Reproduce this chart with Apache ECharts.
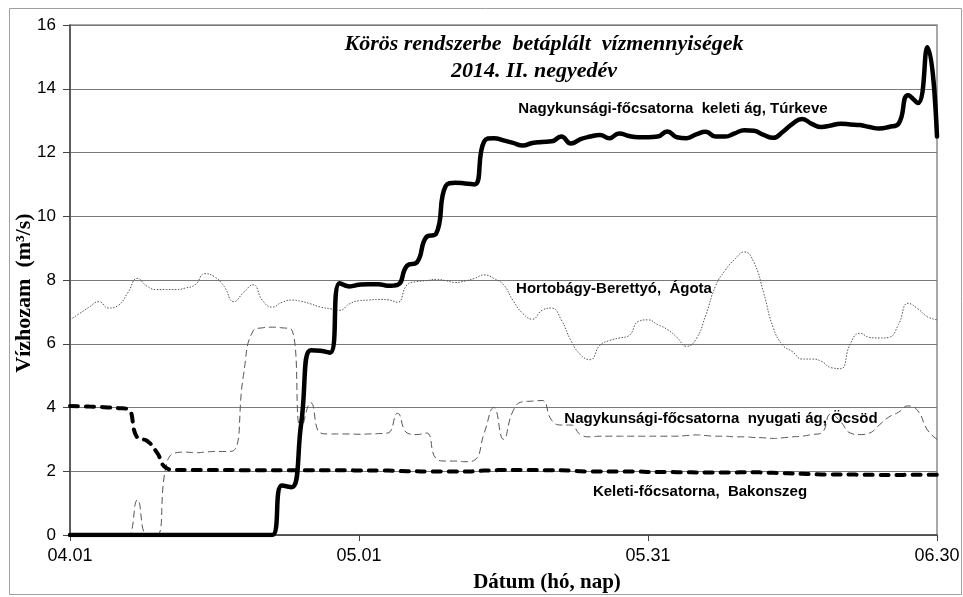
<!DOCTYPE html>
<html><head><meta charset="utf-8">
<script src="https://cdn.jsdelivr.net/npm/echarts@6/dist/echarts.min.js"></script>
<style>html,body{margin:0;padding:0;background:#fff}#c{width:963px;height:597px}</style>
</head><body><div id="c"></div>
<script>
// Tick labels shown on the date axis
const tickLabels = ['04.01', '05.01', '05.31', '06.30'];
// Categories: every day of 2014 Q2 (04.01 … 06.30), as MM.DD
const categories = (function () {
  const out = [];
  const d = new Date(Date.UTC(2014, 3, 1));
  while (d.getUTCMonth() < 6) {
    out.push(String(d.getUTCMonth() + 1).padStart(2, '0') + '.' + String(d.getUTCDate()).padStart(2, '0'));
    d.setUTCDate(d.getUTCDate() + 1);
  }
  return out;
})();

const seriesNames = [
  'Nagykunsági-főcsatorna  keleti ág, Túrkeve',
  'Hortobágy-Berettyó,  Ágota',
  'Nagykunsági-főcsatorna  nyugati ág, Öcsöd',
  'Keleti-főcsatorna,  Bakonszeg'
];

// Nagykunsági-főcsatorna keleti ág, Túrkeve (m3/s)
const turkeve = [
  0, 0, 0, 0, 0, 0, 0, 0, 0, 0,
  0, 0, 0, 0, 0, 0, 0, 0, 0, 0,
  0, 0, 1.55, 1.5, 3.5, 5.8, 5.78, 5.72, 7.9, 7.8,
  7.85, 7.87, 7.87, 7.82, 7.85, 8.45, 8.55, 9.35, 9.45, 10.95,
  11.05, 11.03, 11.0, 12.35, 12.45, 12.38, 12.3, 12.22, 12.3, 12.33,
  12.35, 12.5, 12.28, 12.42, 12.5, 12.55, 12.45, 12.6, 12.52, 12.48,
  12.48, 12.5, 12.66, 12.48, 12.45, 12.57, 12.65, 12.5, 12.5, 12.6,
  12.7, 12.68, 12.55, 12.46, 12.65, 12.9, 13.05, 12.9, 12.8, 12.85,
  12.9, 12.88, 12.86, 12.8, 12.75, 12.8, 12.9, 13.8, 13.55, 15.3,
  12.5
];
// Hortobágy-Berettyó, Ágota
const agota = [
  6.75, 6.95, 7.15, 7.32, 7.12, 7.2, 7.6, 8.05, 7.8, 7.7,
  7.7, 7.7, 7.75, 7.85, 8.2, 8.1, 7.8, 7.32, 7.6, 7.85,
  7.35, 7.15, 7.3, 7.37, 7.33, 7.25, 7.15, 7.1, 7.05, 7.25,
  7.35, 7.37, 7.39, 7.38, 7.3, 7.85, 7.95, 7.98, 8.02, 7.98,
  7.92, 7.97, 8.05, 8.16, 8.05, 7.85, 7.35, 6.95, 6.77, 7.05,
  7.12, 6.75, 6.1, 5.65, 5.5, 5.95, 6.1, 6.18, 6.25, 6.7,
  6.75, 6.6, 6.45, 6.2, 5.92, 6.15, 6.9, 7.8, 8.3, 8.65,
  8.88, 8.55, 7.6, 6.5, 5.95, 5.75, 5.52, 5.52, 5.45, 5.25,
  5.22, 6.0, 6.33, 6.2, 6.18, 6.2, 6.6, 7.27, 7.1, 6.85,
  6.75
];
// Nagykunsági-főcsatorna nyugati ág, Öcsöd
const ocsod = [
  0, 0, 0, 0, 0, 0, 0, 1.1, 0, 0,
  2.2, 2.58, 2.6, 2.58, 2.6, 2.62, 2.62, 2.65, 5.0, 6.4,
  6.5, 6.52, 6.5, 6.45, 3.3, 4.15, 3.2, 3.17, 3.17, 3.17,
  3.16, 3.17, 3.18, 3.2, 3.82, 3.2, 3.15, 3.2, 2.4, 2.32,
  2.32, 2.3, 2.35, 3.2, 4.0, 3.0, 3.9, 4.18, 4.2, 4.22,
  3.6, 3.45, 3.45, 3.15, 3.08, 3.1, 3.1, 3.1, 3.1, 3.1,
  3.1, 3.1, 3.1, 3.1, 3.12, 3.14, 3.12, 3.1, 3.1, 3.08,
  3.08, 3.06, 3.05, 3.03, 3.05, 3.08, 3.1, 3.15, 3.2, 3.8,
  3.55, 3.2, 3.15, 3.2, 3.45, 3.7, 3.85, 4.05, 3.9, 3.3,
  3.0
];
// Keleti-főcsatorna, Bakonszeg
const bakonszeg = [
  4.05, 4.04, 4.03, 4.02, 4.0, 3.98, 3.95, 3.05, 2.95, 2.6,
  2.1, 2.04, 2.04, 2.04, 2.04, 2.04, 2.04, 2.04, 2.03, 2.03,
  2.03, 2.03, 2.03, 2.03, 2.03, 2.03, 2.03, 2.03, 2.03, 2.03,
  2.02, 2.02, 2.02, 2.02, 2.01, 2.0, 2.0, 1.99, 1.99, 1.99,
  1.99, 1.99, 2.0, 2.02, 2.03, 2.04, 2.04, 2.04, 2.04, 2.03,
  2.03, 2.03, 2.02, 2.0, 1.99, 1.99, 1.99, 1.99, 1.99, 1.99,
  1.98, 1.98, 1.98, 1.97, 1.97, 1.96, 1.96, 1.96, 1.96, 1.96,
  1.97, 1.97, 1.96, 1.95, 1.94, 1.93, 1.92, 1.91, 1.9, 1.9,
  1.9, 1.9, 1.89, 1.89, 1.88, 1.88, 1.88, 1.89, 1.89, 1.89,
  1.89
];

const SANS = 'Liberation Sans, Arial, sans-serif';
const SERIF = 'Liberation Serif, Times New Roman, serif';
const showTick = (idx, val) => tickLabels.indexOf(val) >= 0;

const chart = echarts.init(document.getElementById('c'), null, { renderer: 'canvas' });
chart.setOption({
  animation: false,
  backgroundColor: '#fff',
  grid: { left: 70, right: 26, top: 25, bottom: 62, show: true, borderColor: '#8c8c8c', borderWidth: 1.5, backgroundColor: 'transparent' },
  xAxis: {
    type: 'category', data: categories, boundaryGap: false,
    axisLine: { lineStyle: { color: '#444', width: 1.5 } },
    axisTick: { show: true, interval: showTick, length: 6, lineStyle: { color: '#444' } },
    axisLabel: { interval: showTick, showMinLabel: true, showMaxLabel: true, fontSize: 18, fontFamily: SANS, color: '#000', margin: 12 },
    splitLine: { show: false }
  },
  yAxis: {
    type: 'value', min: 0, max: 16, interval: 2,
    axisLine: { show: true, lineStyle: { color: '#444', width: 1.5 } },
    axisTick: { show: true, length: 7, lineStyle: { color: '#444' } },
    axisLabel: { fontSize: 17, fontFamily: SANS, color: '#000', margin: 14 },
    splitLine: { lineStyle: { color: '#7a7a7a', width: 1.2 } }
  },
  series: [
    { name: seriesNames[1], type: 'line', data: agota, smooth: 0.5, symbol: 'none', z: 2,
      lineStyle: { color: '#555', width: 1, type: [1.5, 1.5] } },
    { name: seriesNames[2], type: 'line', data: ocsod, smooth: 0.5, symbol: 'none', z: 3,
      lineStyle: { color: '#555', width: 1, type: [7, 4] } },
    { name: seriesNames[3], type: 'line', data: bakonszeg, smooth: 0.5, symbol: 'none', z: 4,
      lineStyle: { color: '#000', width: 4, type: [8, 8], cap: 'round' } },
    { name: seriesNames[0], type: 'line', data: turkeve, smooth: 0.5, symbol: 'none', z: 5,
      lineStyle: { color: '#000', width: 4.5, cap: 'round', join: 'round' } }
  ],
  graphic: [
    { type: 'rect', silent: true, z: -10, shape: { x: 9.5, y: 8.5, width: 952, height: 586 },
      style: { fill: 'none', stroke: '#a0a0a0', lineWidth: 1 } },
    { type: 'text', x: 544, y: 44, z: 100, style: { text: 'Körös rendszerbe  betáplált  vízmennyiségek', font: 'italic bold 22px ' + SERIF, fill: '#000', textAlign: 'center', textVerticalAlign: 'middle' } },
    { type: 'text', x: 534, y: 71, z: 100, style: { text: '2014. II. negyedév', font: 'italic bold 22px ' + SERIF, fill: '#000', textAlign: 'center', textVerticalAlign: 'middle' } },
    { type: 'text', x: 673, y: 109, z: 100, style: { text: seriesNames[0], font: 'bold 15px ' + SANS, fill: '#000', textAlign: 'center', textVerticalAlign: 'middle' } },
    { type: 'text', x: 614, y: 289, z: 100, style: { text: seriesNames[1], font: 'bold 15px ' + SANS, fill: '#000', textAlign: 'center', textVerticalAlign: 'middle' } },
    { type: 'text', x: 721, y: 419, z: 100, style: { text: seriesNames[2], font: 'bold 15px ' + SANS, fill: '#000', textAlign: 'center', textVerticalAlign: 'middle' } },
    { type: 'text', x: 700, y: 492, z: 100, style: { text: seriesNames[3], font: 'bold 15px ' + SANS, fill: '#000', textAlign: 'center', textVerticalAlign: 'middle' } },
    { type: 'text', x: 547, y: 583, z: 100, style: { text: 'Dátum (hó, nap)', font: 'bold 21px ' + SERIF, fill: '#000', textAlign: 'center', textVerticalAlign: 'middle' } },
    { type: 'text', x: 24, y: 293, rotation: Math.PI / 2, z: 100, style: { text: 'Vízhozam  (m³/s)', font: 'bold 22px ' + SERIF, fill: '#000', textAlign: 'center', textVerticalAlign: 'middle' } }
  ]
});
</script>
</body></html>
